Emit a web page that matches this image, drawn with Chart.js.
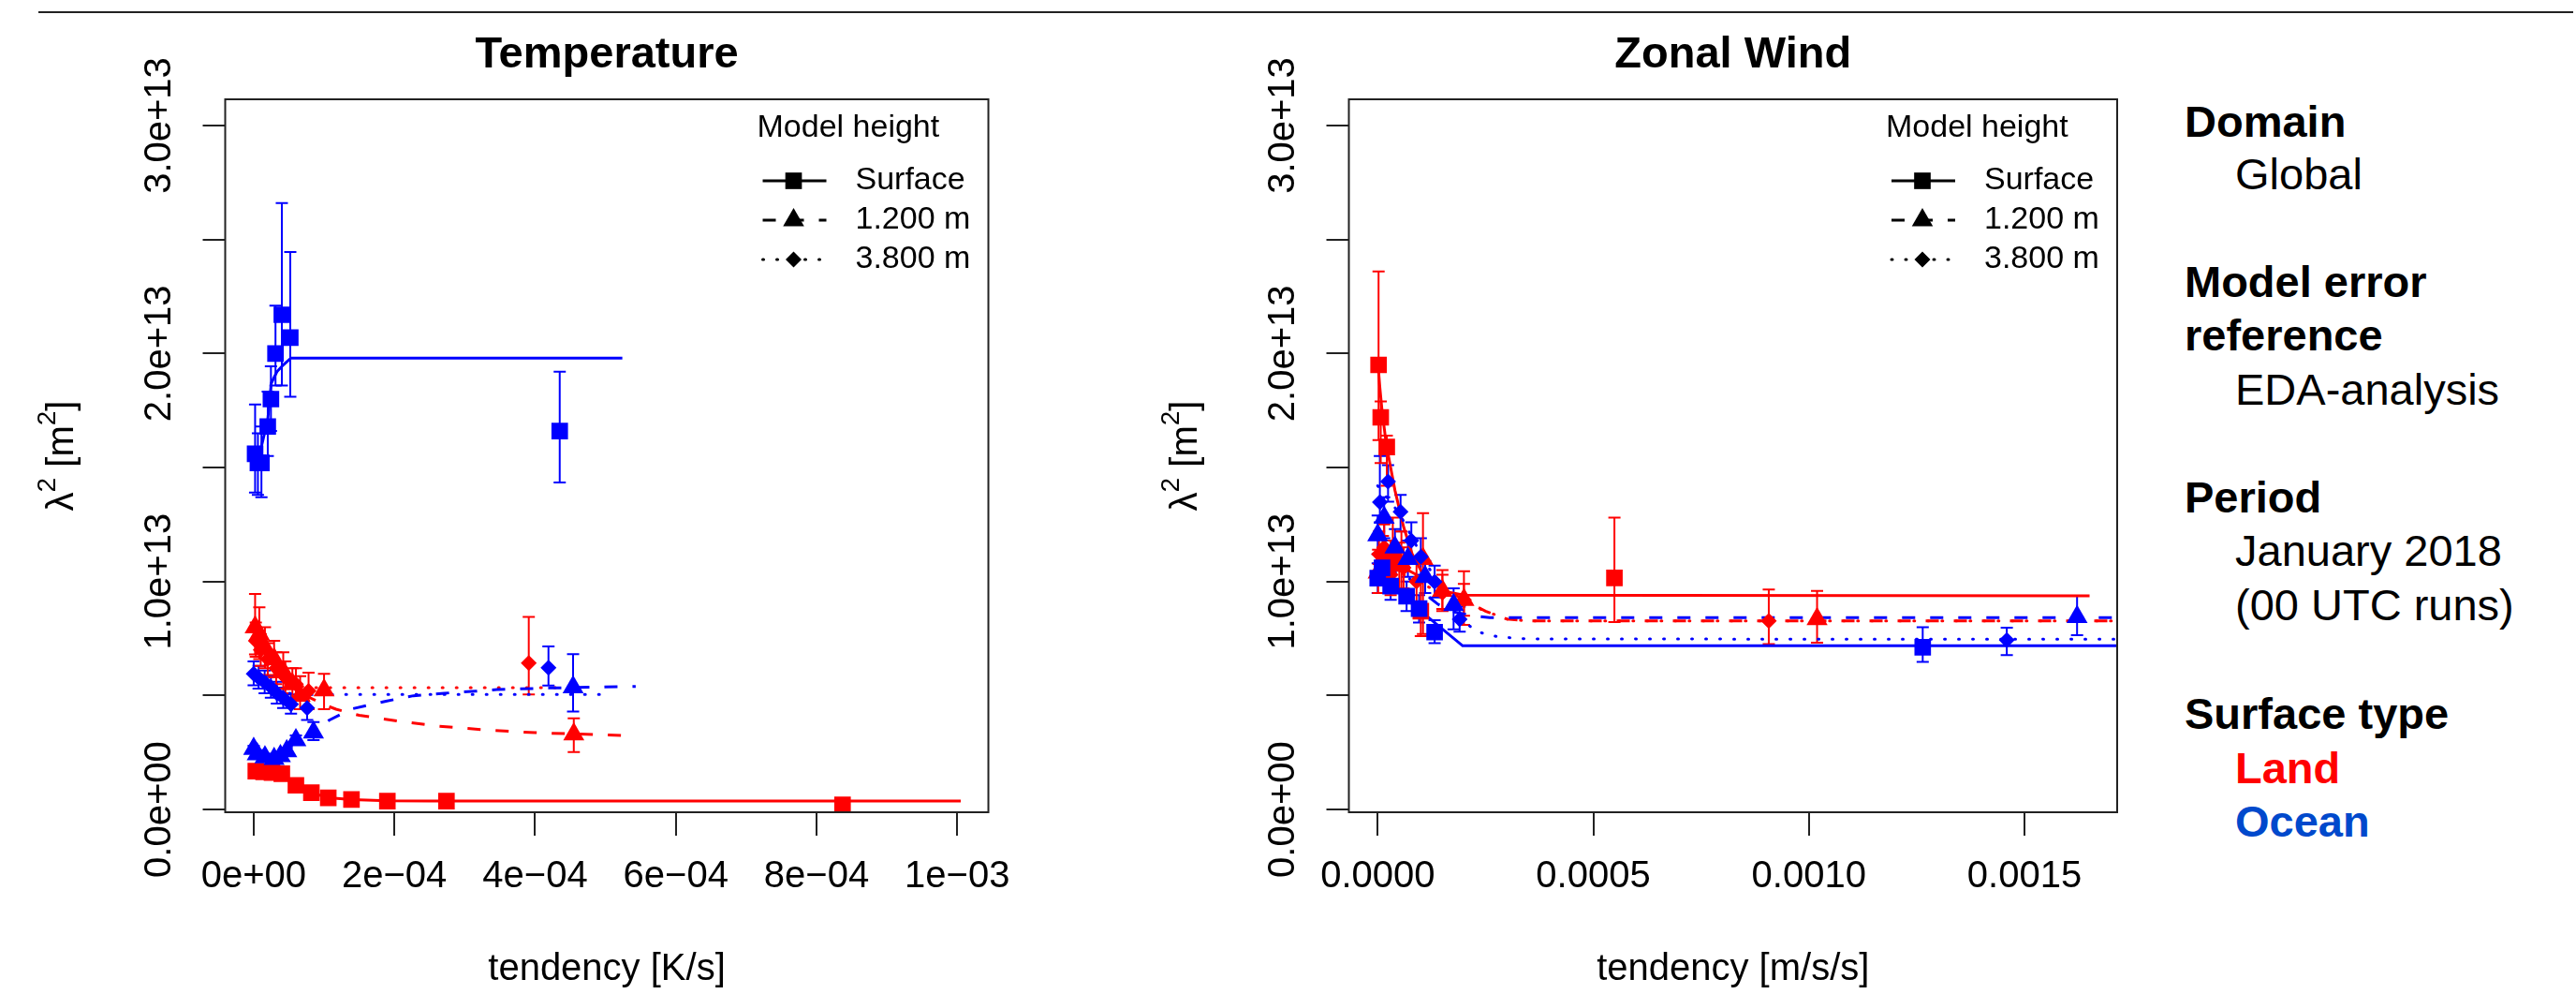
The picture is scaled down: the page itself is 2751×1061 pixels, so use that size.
<!DOCTYPE html>
<html>
<head>
<meta charset="utf-8">
<script src="https://cdn.jsdelivr.net/npm/chart.js@4.4.1/dist/chart.umd.min.js"></script>
<style>
  body { margin: 0; background: #fff; width: 2751px; height: 1061px; overflow: hidden; position: relative;
         font-family: "Liberation Sans", Arial, Helvetica, sans-serif; }
  #rule { position: absolute; left: 41px; top: 12px; width: 2707px; height: 2px; background: #222; }
  canvas { position: absolute; top: 0; }
  #cTemp { left: 0; }
  #cWind { left: 1200px; }
  .side { position: absolute; font-size: 47px; line-height: 47px; white-space: nowrap; color: #000; }
  .h { left: 2333px; font-weight: bold; }
  .v { left: 2387px; }
</style>
</head>
<body>
<div id="rule"></div>
<canvas id="cTemp" width="1100" height="1061"></canvas>
<canvas id="cWind" width="1100" height="1061"></canvas>

<div class="side h" style="top:106px">Domain</div>
<div class="side v" style="top:162px">Global</div>
<div class="side h" style="top:277px">Model error</div>
<div class="side h" style="top:334px">reference</div>
<div class="side v" style="top:392px">EDA-analysis</div>
<div class="side h" style="top:507px">Period</div>
<div class="side v" style="top:564px">January 2018</div>
<div class="side v" style="top:622px">(00 UTC runs)</div>
<div class="side h" style="top:738px">Surface type</div>
<div class="side v" style="top:796px;color:#ff0000;font-weight:bold">Land</div>
<div class="side v" style="top:853px;color:#0049cc;font-weight:bold">Ocean</div>

<script>
var fontFam = '"Liberation Sans", Arial, Helvetica, sans-serif';
var RED = '#ff0000', BLUE = '#0000ff';

// axes (lambda^2 values are kept in units of 1e13 m^2)
var yTicks = [0, 0.5, 1, 1.5, 2, 2.5, 3];
var yLabels = ['0.0e+00', '', '1.0e+13', '', '2.0e+13', '', '3.0e+13'];
var tempXTicks = [0, 2e-4, 4e-4, 6e-4, 8e-4, 1e-3];
var tempXLabels = ['0e+00', '2e\u221204', '4e\u221204', '6e\u221204', '8e\u221204', '1e\u221203'];
var windXTicks = [0, 5e-4, 1e-3, 1.5e-3];
var windXLabels = ['0.0000', '0.0005', '0.0010', '0.0015'];
var legendTitle = 'Model height';
var heightLabels = ['Surface', '1.200 m', '3.800 m'];

// ---- Temperature: land ----
var tLandSfcX  = [0.3e-5, 1.4e-5, 2.6e-5, 4.0e-5, 6.0e-5, 8.2e-5, 1.06e-4, 1.39e-4, 1.90e-4, 2.74e-4, 8.37e-4];
var tLandSfcY  = [0.168, 0.165, 0.162, 0.157, 0.106, 0.074, 0.051, 0.044, 0.037, 0.037, 0.020];
var tLandSfcLo = [0.155, 0.152, 0.150, 0.145, 0.096, 0.066, 0.044, 0.038, 0.031, 0.031, 0.012];
var tLandSfcHi = [0.181, 0.178, 0.175, 0.169, 0.116, 0.082, 0.058, 0.050, 0.043, 0.043, 0.028];
var tLandSfcFitX = [0, 2e-5, 4e-5, 6e-5, 8.2e-5, 1.06e-4, 1.4e-4, 1.9e-4, 2.5e-4, 1.005e-3];
var tLandSfcFitY = [0.17, 0.165, 0.155, 0.106, 0.074, 0.052, 0.043, 0.038, 0.037, 0.037];

var tLand12X  = [0.2e-5, 0.8e-5, 1.6e-5, 2.9e-5, 4.2e-5, 5.5e-5, 6.6e-5, 1.0e-4, 4.55e-4];
var tLand12Y  = [0.80, 0.77, 0.71, 0.66, 0.605, 0.55, 0.50, 0.523, 0.33];
var tLand12Lo = [0.68, 0.66, 0.62, 0.58, 0.53, 0.48, 0.44, 0.44, 0.252];
var tLand12Hi = [0.945, 0.887, 0.80, 0.74, 0.69, 0.62, 0.585, 0.595, 0.40];
var tLand12FitX = [0, 2e-5, 4e-5, 6e-5, 8e-5, 1.0e-4, 1.17e-4, 1.5e-4, 2.1e-4, 2.6e-4, 3.3e-4, 4.0e-4, 4.9e-4, 5.36e-4];
var tLand12FitY = [0.80, 0.70, 0.61, 0.535, 0.49, 0.46, 0.44, 0.413, 0.386, 0.366, 0.349, 0.337, 0.328, 0.323];

var tLand38X  = [0.3e-5, 1.0e-5, 2.0e-5, 3.2e-5, 4.5e-5, 6.0e-5, 7.8e-5, 3.91e-4];
var tLand38Y  = [0.74, 0.70, 0.66, 0.62, 0.58, 0.55, 0.52, 0.642];
var tLand38Lo = [0.67, 0.63, 0.59, 0.55, 0.51, 0.48, 0.44, 0.505];
var tLand38Hi = [0.82, 0.77, 0.73, 0.69, 0.65, 0.62, 0.60, 0.845];
var tLand38FitX = [0, 2e-5, 4e-5, 6e-5, 8e-5, 4.55e-4];
var tLand38FitY = [0.75, 0.65, 0.58, 0.545, 0.534, 0.534];

// ---- Temperature: ocean ----
var tOceanSfcX  = [0.2e-5, 0.6e-5, 1.1e-5, 2.0e-5, 2.45e-5, 3.1e-5, 4.0e-5, 5.2e-5, 4.35e-4];
var tOceanSfcY  = [1.56, 1.52, 1.52, 1.68, 1.80, 2.00, 2.17, 2.07, 1.66];
var tOceanSfcLo = [1.39, 1.38, 1.37, 1.55, 1.66, 1.86, 1.86, 1.81, 1.434];
var tOceanSfcHi = [1.776, 1.65, 1.68, 1.833, 1.944, 2.21, 2.66, 2.445, 1.92];
var tOceanSfcFitX = [0, 1e-5, 2e-5, 2.5e-5, 3.3e-5, 4.2e-5, 5.3e-5, 5.24e-4];
var tOceanSfcFitY = [1.50, 1.58, 1.71, 1.87, 1.92, 1.95, 1.98, 1.98];

var tOcean12X  = [0, 0.5e-5, 1.6e-5, 2.9e-5, 3.8e-5, 4.7e-5, 6.0e-5, 8.5e-5, 4.54e-4];
var tOcean12Y  = [0.266, 0.243, 0.229, 0.222, 0.235, 0.256, 0.304, 0.338, 0.537];
var tOcean12Lo = [0.25, 0.23, 0.215, 0.21, 0.22, 0.24, 0.285, 0.304, 0.43];
var tOcean12Hi = [0.28, 0.26, 0.245, 0.235, 0.25, 0.27, 0.325, 0.383, 0.681];
var tOcean12FitX = [0, 3e-5, 6e-5, 8.5e-5, 1.08e-4, 1.39e-4, 1.88e-4, 2.27e-4, 2.71e-4, 3.15e-4, 3.46e-4, 4.2e-4, 5.43e-4];
var tOcean12FitY = [0.24, 0.24, 0.29, 0.345, 0.393, 0.441, 0.475, 0.499, 0.51, 0.519, 0.526, 0.533, 0.54];

var tOcean38X  = [0, 0.7e-5, 1.56e-5, 2.45e-5, 3.3e-5, 4.2e-5, 5.3e-5, 7.6e-5, 4.19e-4];
var tOcean38Y  = [0.595, 0.578, 0.558, 0.537, 0.51, 0.489, 0.462, 0.445, 0.622];
var tOcean38Lo = [0.545, 0.53, 0.51, 0.49, 0.465, 0.445, 0.42, 0.393, 0.544];
var tOcean38Hi = [0.65, 0.63, 0.61, 0.585, 0.56, 0.535, 0.505, 0.503, 0.715];
var tOcean38FitX = [0, 2e-5, 4e-5, 6e-5, 4.92e-4];
var tOcean38FitY = [0.60, 0.55, 0.515, 0.505, 0.505];

// ---- Zonal wind: land ----
var wLandSfcX  = [0.2e-5, 0.7e-5, 2.1e-5, 3.5e-5, 5.5e-5, 1.0e-4, 5.49e-4];
var wLandSfcY  = [1.95, 1.72, 1.59, 1.12, 1.08, 0.87, 1.016];
var wLandSfcLo = [1.62, 1.52, 1.42, 0.98, 0.95, 0.76, 0.822];
var wLandSfcHi = [2.36, 1.79, 1.64, 1.28, 1.22, 1.00, 1.28];
var wLandSfcFitX = [0, 0.5e-5, 1e-5, 2e-5, 4e-5, 6e-5, 8e-5, 1.0e-4, 1.3e-4, 1.6e-4, 2.0e-4, 1.651e-3];
var wLandSfcFitY = [1.97, 1.85, 1.75, 1.60, 1.40, 1.24, 1.12, 1.05, 0.99, 0.955, 0.94, 0.937];

var wLand12X  = [0.1e-5, 1.2e-5, 3.0e-5, 5.0e-5, 1.05e-4, 1.5e-4, 2.0e-4, 1.019e-3];
var wLand12Y  = [1.04, 1.10, 1.08, 1.07, 1.10, 0.96, 0.92, 0.836];
var wLand12Lo = [0.95, 1.0, 0.98, 0.97, 0.77, 0.88, 0.81, 0.732];
var wLand12Hi = [1.14, 1.2, 1.18, 1.17, 1.30, 1.05, 1.045, 0.959];
var wLand12FitX = [0, 5e-5, 1e-4, 1.5e-4, 2e-4, 2.5e-4, 3e-4, 3.5e-4, 1.75e-3];
var wLand12FitY = [1.10, 1.07, 1.02, 0.97, 0.92, 0.87, 0.835, 0.827, 0.827];

var wLand38X  = [0.3e-5, 1.5e-5, 3e-5, 6e-5, 9e-5, 1.5e-4, 2.0e-4, 9.07e-4];
var wLand38Y  = [1.12, 1.15, 1.03, 1.06, 1.0, 0.951, 0.92, 0.827];
var wLand38Lo = [1.02, 1.05, 0.94, 0.97, 0.91, 0.87, 0.85, 0.726];
var wLand38Hi = [1.22, 1.25, 1.12, 1.15, 1.09, 1.03, 0.99, 0.965];
var wLand38FitX = [0, 5e-5, 1e-4, 1.5e-4, 2e-4, 2.5e-4, 3e-4, 3.5e-4, 1.75e-3];
var wLand38FitY = [1.08, 1.04, 0.99, 0.95, 0.91, 0.87, 0.835, 0.827, 0.827];

// ---- Zonal wind: ocean ----
var wOceanSfcX  = [0, 1e-5, 3e-5, 6.7e-5, 9.6e-5, 1.32e-4, 1.264e-3];
var wOceanSfcY  = [1.015, 1.06, 0.98, 0.936, 0.881, 0.778, 0.712];
var wOceanSfcLo = [0.95, 0.99, 0.92, 0.87, 0.82, 0.73, 0.647];
var wOceanSfcHi = [1.08, 1.13, 1.04, 1.00, 0.94, 0.83, 0.80];
var wOceanSfcFitX = [0, 1e-4, 1.97e-4, 1.75e-3];
var wOceanSfcFitY = [1.03, 0.87, 0.718, 0.718];

var wOcean12X  = [0, 1.5e-5, 4e-5, 7e-5, 1.1e-4, 1.76e-4, 1.622e-3];
var wOcean12Y  = [1.203, 1.28, 1.15, 1.10, 1.02, 0.897, 0.845];
var wOcean12Lo = [1.12, 1.19, 1.07, 1.02, 0.95, 0.79, 0.765];
var wOcean12Hi = [1.29, 1.37, 1.23, 1.18, 1.09, 0.97, 0.937];
var wOcean12FitX = [0, 3e-5, 6e-5, 1e-4, 1.4e-4, 1.8e-4, 2.3e-4, 2.6e-4, 1.75e-3];
var wOcean12FitY = [1.22, 1.12, 1.04, 0.96, 0.90, 0.865, 0.848, 0.842, 0.842];

var wOcean38X  = [0.5e-5, 2.4e-5, 5.3e-5, 7.8e-5, 1.0e-4, 1.32e-4, 1.9e-4, 1.459e-3];
var wOcean38Y  = [1.348, 1.439, 1.306, 1.18, 1.109, 0.999, 0.834, 0.743];
var wOcean38Lo = [1.26, 1.35, 1.22, 1.10, 1.03, 0.93, 0.78, 0.677];
var wOcean38Hi = [1.55, 1.51, 1.38, 1.26, 1.19, 1.07, 0.89, 0.797];
var wOcean38FitX = [0, 5e-5, 1e-4, 1.5e-4, 1.9e-4, 2.3e-4, 2.8e-4, 3.5e-4, 1.75e-3];
var wOcean38FitY = [1.42, 1.30, 1.12, 0.96, 0.84, 0.78, 0.757, 0.748, 0.747];

var styles = ['rect', 'triangle', 'rectRot'];
var radii = [12.5, 13, 8.5];
var dashes = [[], [14, 16], [1, 14]];

function pts(xs, ys, lo, hi, color, h) {
  return {
    data: xs.map(function(x, i) { return {x: x, y: ys[i]}; }),
    showLine: false, pointStyle: styles[h], pointRadius: radii[h],
    pointBackgroundColor: color, pointBorderWidth: 0, pointHoverRadius: radii[h],
    errLo: lo, errHi: hi, errColor: color
  };
}
function fit(xs, ys, color, h) {
  return {
    data: xs.map(function(x, i) { return {x: x, y: ys[i]}; }),
    showLine: true, pointRadius: 0, borderColor: color, borderWidth: 3,
    borderDash: dashes[h], borderCapStyle: h == 2 ? 'round' : 'butt', tension: 0, fill: false
  };
}

function marker(ctx, style, x, y, r) {
  ctx.beginPath();
  if (style == 'rect') {
    var s = r * Math.SQRT1_2;
    ctx.rect(x - s, y - s, 2 * s, 2 * s);
  } else if (style == 'triangle') {
    ctx.moveTo(x, y - r); ctx.lineTo(x + 0.866 * r, y + r / 2); ctx.lineTo(x - 0.866 * r, y + r / 2); ctx.closePath();
  } else {
    ctx.moveTo(x - r, y); ctx.lineTo(x, y - r); ctx.lineTo(x + r, y); ctx.lineTo(x, y + r); ctx.closePath();
  }
  ctx.fill();
}

function decor(title, xTitle) {
  return {
    id: 'decor',
    beforeDatasetsDraw: function(chart) {
      var ctx = chart.ctx, a = chart.chartArea, xs = chart.scales.x, ys = chart.scales.y;
      ctx.save();
      ctx.beginPath(); ctx.rect(a.left, a.top, a.right - a.left, a.bottom - a.top); ctx.clip();
      ctx.lineWidth = 2;
      chart.data.datasets.forEach(function(ds) {
        if (!ds.errLo) return;
        ctx.strokeStyle = ds.errColor;
        ds.data.forEach(function(p, i) {
          var px = xs.getPixelForValue(p.x);
          var y1 = ys.getPixelForValue(ds.errLo[i]), y2 = ys.getPixelForValue(ds.errHi[i]);
          ctx.beginPath();
          ctx.moveTo(px, y1); ctx.lineTo(px, y2);
          ctx.moveTo(px - 6.5, y1); ctx.lineTo(px + 6.5, y1);
          ctx.moveTo(px - 6.5, y2); ctx.lineTo(px + 6.5, y2);
          ctx.stroke();
        });
      });
      ctx.restore();
    },
    afterDraw: function(chart) {
      var ctx = chart.ctx, a = chart.chartArea, ys = chart.scales.y;
      var cx = (a.left + a.right) / 2;
      ctx.save();
      ctx.strokeStyle = '#222'; ctx.lineWidth = 2;
      ctx.strokeRect(a.left, a.top, a.right - a.left, a.bottom - a.top);
      ctx.fillStyle = '#000';
      ctx.textAlign = 'center'; ctx.textBaseline = 'middle';
      ctx.font = 'bold 47px ' + fontFam;
      ctx.fillText(title, cx, 59);
      ctx.font = '40px ' + fontFam;
      ctx.fillText(xTitle, cx, 1035);
      // rotated y tick labels
      yTicks.forEach(function(v, i) {
        if (!yLabels[i]) return;
        ctx.save();
        ctx.translate(a.left - 70, ys.getPixelForValue(v));
        ctx.rotate(-Math.PI / 2);
        ctx.fillText(yLabels[i], 0, 0);
        ctx.restore();
      });
      // y title: lambda^2 [m^2]
      var parts = [['\u03bb', 40, 0], ['2', 28, -15], [' [m', 40, 0], ['2', 28, -15], [']', 40, 0]];
      var total = 0;
      parts.forEach(function(p) { ctx.font = p[1] + 'px ' + fontFam; p.push(ctx.measureText(p[0]).width); total += p[3]; });
      ctx.save();
      ctx.translate(a.left - 174, (a.top + a.bottom) / 2);
      ctx.rotate(-Math.PI / 2);
      ctx.textAlign = 'left';
      var px = -total / 2;
      parts.forEach(function(p) { ctx.font = p[1] + 'px ' + fontFam; ctx.fillText(p[0], px, p[2]); px += p[3]; });
      ctx.restore();
      // legend
      var lx = a.right - 247;
      ctx.textAlign = 'left';
      ctx.font = '34px ' + fontFam;
      ctx.fillText(legendTitle, lx, 137);
      heightLabels.forEach(function(lab, h) {
        var ry = 193 + h * 42;
        ctx.strokeStyle = '#000'; ctx.lineWidth = 3;
        ctx.setLineDash(dashes[h]); ctx.lineCap = h == 2 ? 'round' : 'butt';
        ctx.beginPath(); ctx.moveTo(lx + 6, ry); ctx.lineTo(lx + 74, ry); ctx.stroke();
        ctx.setLineDash([]);
        marker(ctx, styles[h], lx + 39, ry, radii[h]);
        ctx.fillText(lab, lx + 105, ry);
      });
      ctx.restore();
    }
  };
}

function makeChart(id, title, xTitle, xMin, xMax, xTicks, xLabels, datasets) {
  return new Chart(document.getElementById(id), {
    type: 'scatter',
    data: { datasets: datasets },
    options: {
      responsive: false, animation: false, devicePixelRatio: 1,
      layout: { padding: { top: 106, right: 39, left: 0, bottom: 0 } },
      plugins: { legend: { display: false }, tooltip: { enabled: false }, title: { display: false } },
      scales: {
        x: {
          type: 'linear', min: xMin, max: xMax,
          afterBuildTicks: function(s) { s.ticks = xTicks.map(function(v) { return {value: v}; }); },
          afterFit: function(s) { s.height = 194; },
          border: { display: false },
          grid: { drawOnChartArea: false, drawTicks: true, tickLength: 25, color: '#222', lineWidth: 2 },
          ticks: { autoSkip: false, maxRotation: 0, padding: 20, color: '#000',
                   font: { family: fontFam, size: 40 },
                   callback: function(v, i) { return xLabels[i]; } }
        },
        y: {
          type: 'linear', min: -0.012, max: 3.115,
          afterBuildTicks: function(s) { s.ticks = yTicks.map(function(v) { return {value: v}; }); },
          afterFit: function(s) { s.width = 240.5; },
          border: { display: false },
          grid: { drawOnChartArea: false, drawTicks: true, tickLength: 24, color: '#222', lineWidth: 2 },
          ticks: { display: false }
        }
      }
    },
    plugins: [decor(title, xTitle)]
  });
}

makeChart('cTemp', 'Temperature', 'tendency [K/s]', -4.05e-5, 1.0443e-3, tempXTicks, tempXLabels, [
  pts(tOceanSfcX, tOceanSfcY, tOceanSfcLo, tOceanSfcHi, BLUE, 0),
  pts(tOcean12X, tOcean12Y, tOcean12Lo, tOcean12Hi, BLUE, 1),
  pts(tOcean38X, tOcean38Y, tOcean38Lo, tOcean38Hi, BLUE, 2),
  pts(tLandSfcX, tLandSfcY, tLandSfcLo, tLandSfcHi, RED, 0),
  pts(tLand12X, tLand12Y, tLand12Lo, tLand12Hi, RED, 1),
  pts(tLand38X, tLand38Y, tLand38Lo, tLand38Hi, RED, 2),
  fit(tOceanSfcFitX, tOceanSfcFitY, BLUE, 0),
  fit(tOcean12FitX, tOcean12FitY, BLUE, 1),
  fit(tOcean38FitX, tOcean38FitY, BLUE, 2),
  fit(tLandSfcFitX, tLandSfcFitY, RED, 0),
  fit(tLand12FitX, tLand12FitY, RED, 1),
  fit(tLand38FitX, tLand38FitY, RED, 2)
]);

makeChart('cWind', 'Zonal Wind', 'tendency [m/s/s]', -6.69e-5, 1.715e-3, windXTicks, windXLabels, [
  pts(wOceanSfcX, wOceanSfcY, wOceanSfcLo, wOceanSfcHi, BLUE, 0),
  pts(wOcean12X, wOcean12Y, wOcean12Lo, wOcean12Hi, BLUE, 1),
  pts(wOcean38X, wOcean38Y, wOcean38Lo, wOcean38Hi, BLUE, 2),
  pts(wLandSfcX, wLandSfcY, wLandSfcLo, wLandSfcHi, RED, 0),
  pts(wLand12X, wLand12Y, wLand12Lo, wLand12Hi, RED, 1),
  pts(wLand38X, wLand38Y, wLand38Lo, wLand38Hi, RED, 2),
  fit(wOceanSfcFitX, wOceanSfcFitY, BLUE, 0),
  fit(wOcean12FitX, wOcean12FitY, BLUE, 1),
  fit(wOcean38FitX, wOcean38FitY, BLUE, 2),
  fit(wLandSfcFitX, wLandSfcFitY, RED, 0),
  fit(wLand12FitX, wLand12FitY, RED, 1),
  fit(wLand38FitX, wLand38FitY, RED, 2)
]);
</script>
</body>
</html>
